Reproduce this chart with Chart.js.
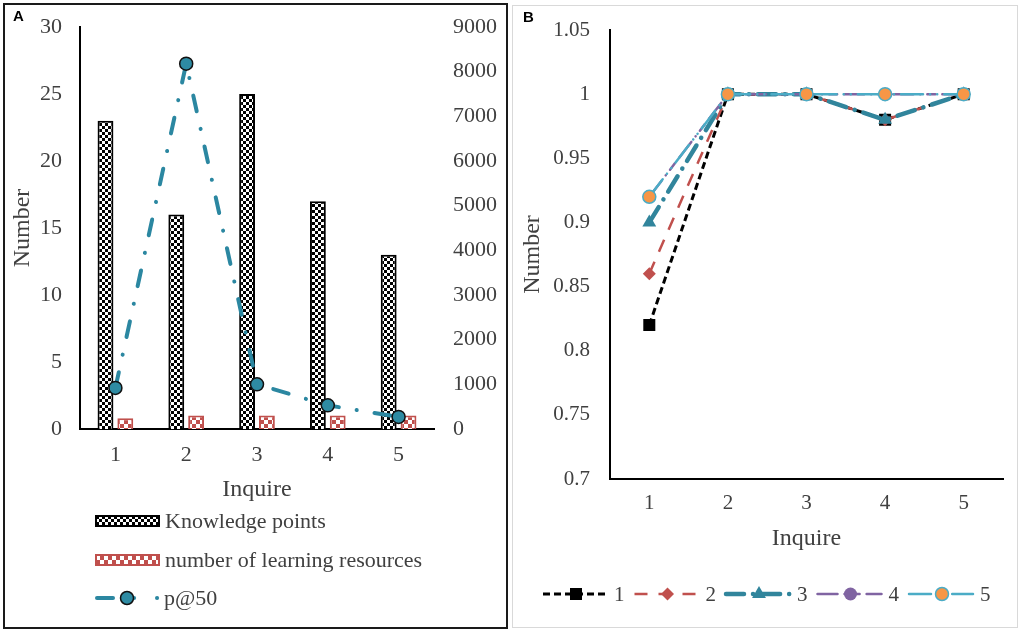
<!DOCTYPE html>
<html lang="en">
<head>
<meta charset="UTF-8">
<title>Knowledge points, learning resources and p@50 by inquire</title>
<script src="https://cdn.jsdelivr.net/npm/chart.js"></script>
<style>
  body { margin: 0; background: #fff; width: 1021px; height: 634px; position: relative; overflow: hidden; }
  canvas { position: absolute; top: 0; }
  #chartA { left: 0; }
  #chartB { left: 510px; }
  .frame { position: absolute; box-sizing: border-box; pointer-events: none; }
  #frameA { left: 3px; top: 3px; width: 505px; height: 626px; border: 2px solid #1a1a1a; }
  #frameB { left: 512px; top: 5px; width: 506px; height: 623px; border: 1px solid #d9d9d9; }
  .tag { position: absolute; font: bold 15px 'Liberation Sans', Arial, sans-serif; color: #000; }
</style>
</head>
<body>
<canvas id="chartA" width="510" height="634"></canvas>
<canvas id="chartB" width="511" height="634"></canvas>
<div class="frame" id="frameA"></div>
<div class="frame" id="frameB"></div>
<div class="tag" style="left:13px;top:7px;">A</div>
<div class="tag" style="left:523px;top:8px;">B</div>
<script>
// ---- panel A data ----
const inquires = ['1', '2', '3', '4', '5'];
const knowledgePoints = [23, 16, 25, 17, 13];
const learningResources = [0.8, 1, 1, 1, 1];
const p50 = [920, 8180, 1000, 530, 270];
const leftTicksA = [0, 5, 10, 15, 20, 25, 30];
const rightTicksA = [0, 1000, 2000, 3000, 4000, 5000, 6000, 7000, 8000, 9000];

// ---- panel B data ----
const series1 = [0.82, 1, 1, 0.98, 1];
const series2 = [0.86, 1, 1, 0.98, 1];
const series3 = [0.90, 1, 1, 0.98, 1];
const series4 = [0.92, 1, 1, 1, 1];
const series5 = [0.92, 1, 1, 1, 1];
const ticksB = [0.7, 0.75, 0.8, 0.85, 0.9, 0.95, 1, 1.05];

const serif = "'Liberation Serif', 'Times New Roman', serif";
const textColor = '#404040';
Chart.defaults.font.family = serif;
Chart.defaults.font.size = 22;
Chart.defaults.color = textColor;
const titleFont = { size: 24 };

function makePattern(size, bg, fg, cell) {
  const c = document.createElement('canvas');
  c.width = size; c.height = size;
  const g = c.getContext('2d');
  g.fillStyle = bg; g.fillRect(0, 0, size, size);
  g.fillStyle = fg;
  g.fillRect(0, 0, cell, cell);
  g.fillRect(cell, cell, cell, cell);
  return document.createElement('canvas').getContext('2d').createPattern(c, 'repeat');
}
const dotFill = makePattern(6, '#fff', '#000', 3);
const checkFill = makePattern(8, '#fff', '#C0504D', 4);

function fixedTicks(list) {
  return scale => { scale.ticks = list.map(v => ({ value: v })); };
}

// fixed axis width, and no extra room for the end labels
function fixWidth(w) {
  return s => { s.width = w; s.paddingTop = 0; s.paddingBottom = 0; };
}

function drawMarker(ctx, style, x, y, r, fill, stroke, lw) {
  ctx.save();
  ctx.setLineDash([]);
  ctx.beginPath();
  if (style === 'rect') {
    const s = r * Math.SQRT1_2;
    ctx.rect(x - s, y - s, 2 * s, 2 * s);
  } else if (style === 'rectRot') {
    ctx.moveTo(x, y - r); ctx.lineTo(x + r, y); ctx.lineTo(x, y + r); ctx.lineTo(x - r, y); ctx.closePath();
  } else if (style === 'triangle') {
    ctx.moveTo(x, y - r);
    ctx.lineTo(x + Math.sin(2 * Math.PI / 3) * r, y + r / 2);
    ctx.lineTo(x - Math.sin(2 * Math.PI / 3) * r, y + r / 2);
    ctx.closePath();
  } else {
    ctx.arc(x, y, r, 0, Math.PI * 2);
  }
  ctx.fillStyle = fill; ctx.fill();
  if (lw) { ctx.lineWidth = lw; ctx.strokeStyle = stroke; ctx.stroke(); }
  ctx.restore();
}

// legend of panel A, stacked under the axis title
const legendA = {
  id: 'legendA',
  afterDraw(chart) {
    const ctx = chart.ctx;
    const ds = chart.data.datasets;
    ctx.save();
    ctx.font = '22px ' + serif;
    ctx.fillStyle = textColor;
    ctx.textBaseline = 'middle';

    // bars
    [[ds[1], 521], [ds[2], 560]].forEach(([d, y]) => {
      ctx.fillStyle = d.backgroundColor;
      ctx.fillRect(96, y - 5, 63, 10);
      ctx.lineWidth = 2; ctx.strokeStyle = d.borderColor;
      ctx.strokeRect(96, y - 5, 63, 10);
      ctx.fillStyle = textColor;
      ctx.fillText(d.label, 165, y + 1);
    });

    // line
    const l = ds[0], y = 598;
    ctx.strokeStyle = l.borderColor; ctx.lineWidth = 4; ctx.lineCap = 'round';
    ctx.beginPath(); ctx.moveTo(97, y); ctx.lineTo(113, y); ctx.stroke();
    ctx.beginPath(); ctx.moveTo(134, y); ctx.lineTo(134.1, y); ctx.stroke();
    ctx.beginPath(); ctx.moveTo(157, y); ctx.lineTo(157.1, y); ctx.stroke();
    drawMarker(ctx, 'circle', 127, y, 6.5, l.pointBackgroundColor, l.pointBorderColor, 1.5);
    ctx.fillStyle = textColor;
    ctx.fillText(l.label, 164, y + 1);
    ctx.restore();
  }
};

// legend of panel B, one row under the axis title
const legendB = {
  id: 'legendB',
  afterDraw(chart) {
    const ctx = chart.ctx;
    ctx.save();
    ctx.font = '21px ' + serif;
    ctx.textBaseline = 'middle';
    const y = 594;
    chart.data.datasets.forEach((d, i) => {
      const s = 33 + i * 91.5;
      ctx.strokeStyle = d.borderColor;
      ctx.lineWidth = d.borderWidth;
      ctx.lineCap = d.borderCapStyle || 'butt';
      ctx.setLineDash(d.borderDash || []);
      ctx.beginPath(); ctx.moveTo(s, y); ctx.lineTo(s + 64, y); ctx.stroke();
      drawMarker(ctx, d.pointStyle, s + 33, y, d.pointRadius, d.pointBackgroundColor, d.pointBorderColor, d.pointBorderWidth);
      ctx.fillStyle = textColor;
      ctx.fillText(d.label, s + 71, y + 1);
    });
    ctx.restore();
  }
};

new Chart(document.getElementById('chartA'), {
  type: 'bar',
  data: {
    labels: inquires,
    datasets: [{
      type: 'line',
      label: 'p@50',
      data: p50,
      yAxisID: 'y1',
      borderColor: '#2B87A1',
      borderWidth: 4,
      borderDash: [16, 18, 0.1, 18],
      borderCapStyle: 'round',
      pointRadius: 6.5,
      pointBackgroundColor: '#2E8BA3',
      pointBorderColor: '#111',
      pointBorderWidth: 1.5,
      tension: 0,
      order: 0
    }, {
      label: 'Knowledge points',
      data: knowledgePoints,
      yAxisID: 'y',
      backgroundColor: dotFill,
      borderColor: '#000',
      borderWidth: 2,
      categoryPercentage: 0.56,
      barPercentage: 0.8,
      order: 1
    }, {
      label: 'number of learning resources',
      data: learningResources,
      yAxisID: 'y',
      backgroundColor: checkFill,
      borderColor: '#C0504D',
      borderWidth: 2,
      categoryPercentage: 0.56,
      barPercentage: 0.8,
      order: 1
    }]
  },
  options: {
    responsive: false,
    animation: false,
    devicePixelRatio: 1,
    layout: { padding: { top: 27, bottom: 130, left: 0, right: 0 } },
    plugins: { legend: { display: false }, tooltip: { enabled: false } },
    scales: {
      x: {
        grid: { display: false, drawTicks: false },
        border: { display: true, color: '#000', width: 2 },
        ticks: { padding: 13 },
        title: { display: true, text: 'Inquire', font: titleFont, padding: { top: 0, bottom: 0 } },
        afterFit: s => { s.height = 75; }
      },
      y: {
        position: 'left',
        min: 0, max: 30,
        grid: { display: false, drawTicks: false },
        border: { display: true, color: '#000', width: 2 },
        ticks: { padding: 18, callback: v => String(v) },
        afterBuildTicks: fixedTicks(leftTicksA),
        title: { display: true, text: 'Number', font: titleFont, padding: { top: 8.5, bottom: 0 } },
        afterFit: fixWidth(80)
      },
      y1: {
        position: 'right',
        min: 0, max: 9000,
        grid: { display: false, drawTicks: false },
        border: { display: false },
        ticks: { padding: 19, callback: v => String(v) },
        afterBuildTicks: fixedTicks(rightTicksA),
        afterFit: fixWidth(76)
      }
    }
  },
  plugins: [legendA]
});

new Chart(document.getElementById('chartB'), {
  type: 'line',
  data: {
    labels: inquires,
    datasets: [{
      label: '1', data: series1, order: 5,
      borderColor: '#000', borderWidth: 3, borderDash: [7, 4],
      pointStyle: 'rect', pointRadius: 8.5, pointBackgroundColor: '#000', pointBorderColor: '#000', pointBorderWidth: 0
    }, {
      label: '2', data: series2, order: 4,
      borderColor: '#C0504D', borderWidth: 2.5, borderDash: [13, 11],
      pointStyle: 'rectRot', pointRadius: 6.5, pointBackgroundColor: '#C0504D', pointBorderColor: '#C0504D', pointBorderWidth: 0
    }, {
      label: '3', data: series3, order: 3,
      borderColor: '#31859C', borderWidth: 4.5, borderDash: [18, 9, 0.1, 9], borderCapStyle: 'round',
      pointStyle: 'triangle', pointRadius: 8, pointBackgroundColor: '#31859C', pointBorderColor: '#31859C', pointBorderWidth: 0
    }, {
      label: '4', data: series4, order: 2,
      borderColor: '#8064A2', borderWidth: 2.5, borderDash: [20, 7, 0.1, 7, 8, 7], borderCapStyle: 'round',
      pointStyle: 'circle', pointRadius: 6.5, pointBackgroundColor: '#8064A2', pointBorderColor: '#8064A2', pointBorderWidth: 0
    }, {
      label: '5', data: series5, order: 1,
      borderColor: '#4BACC6', borderWidth: 2.5, borderDash: [22, 7, 0.1, 7, 0.1, 7], borderCapStyle: 'round',
      pointStyle: 'circle', pointRadius: 6.5, pointBackgroundColor: '#F79646', pointBorderColor: '#4BACC6', pointBorderWidth: 1.5
    }]
  },
  options: {
    responsive: false,
    animation: false,
    devicePixelRatio: 1,
    layout: { padding: { top: 30, bottom: 81, left: 0, right: 18 } },
    plugins: { legend: { display: false }, tooltip: { enabled: false } },
    elements: { line: { tension: 0 } },
    scales: {
      x: {
        offset: true,
        grid: { display: false, drawTicks: false },
        border: { display: true, color: '#000', width: 2 },
        ticks: { padding: 12, font: { size: 21 } },
        title: { display: true, text: 'Inquire', font: titleFont, padding: { top: 0, bottom: 0 } },
        afterFit: s => { s.height = 74; }
      },
      y: {
        min: 0.7, max: 1.05,
        grid: { display: false, drawTicks: false },
        border: { display: true, color: '#000', width: 2 },
        ticks: { padding: 20, font: { size: 21 }, callback: v => String(Math.round(v * 100) / 100) },
        afterBuildTicks: fixedTicks(ticksB),
        title: { display: true, text: 'Number', font: titleFont, padding: { top: 8.5, bottom: 0 } },
        afterFit: fixWidth(100)
      }
    }
  },
  plugins: [legendB]
});
</script>
</body>
</html>
